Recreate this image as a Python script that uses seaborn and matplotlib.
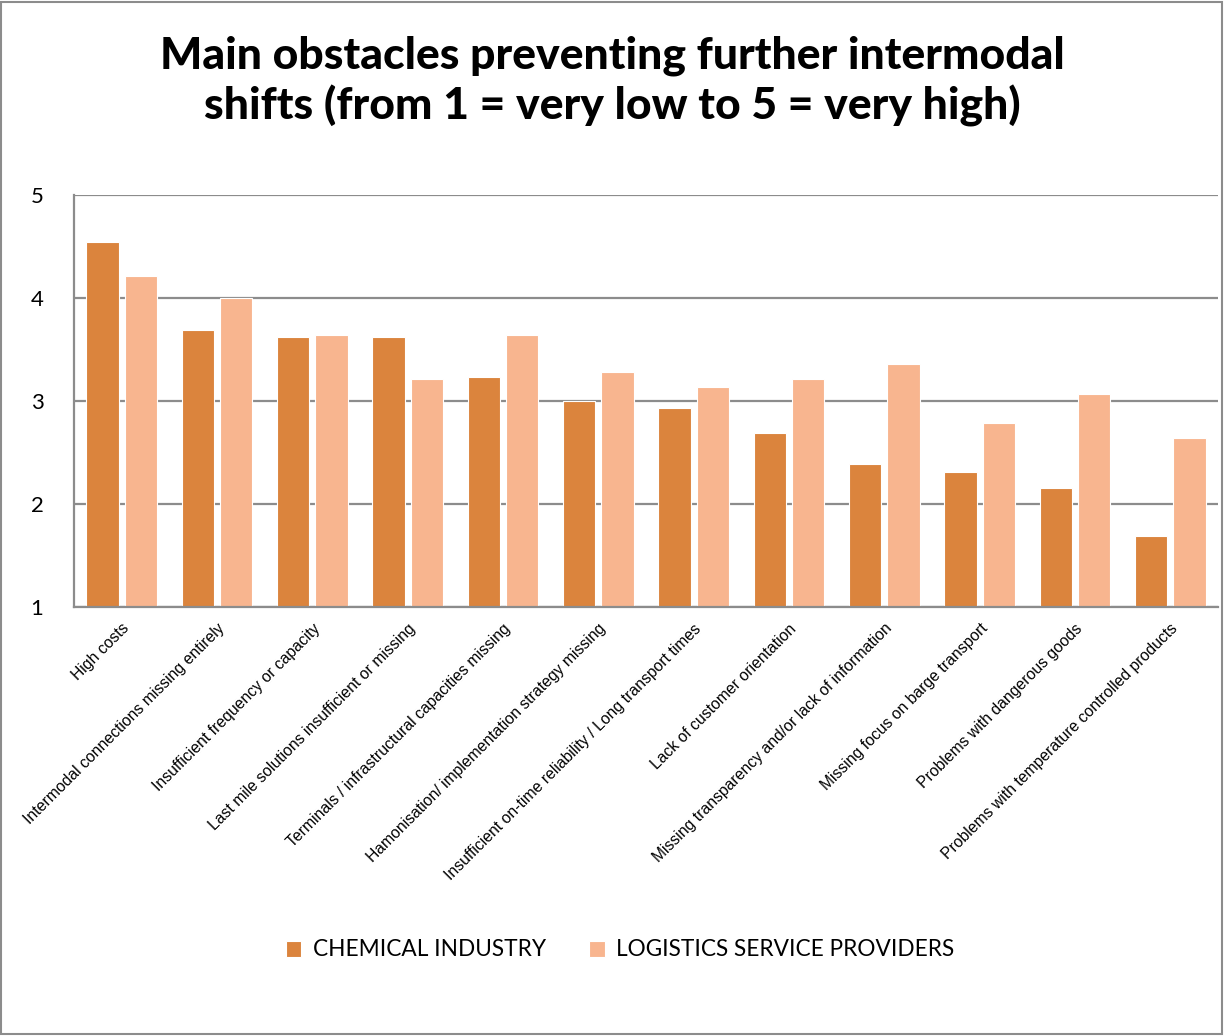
import numpy as np
import pandas as pd
import matplotlib.pyplot as plt
import seaborn as sns
from matplotlib.patches import Rectangle

# Data
obstacles = [
    'High costs',
    'Intermodal connections missing entirely',
    'Insufficient frequency or capacity',
    'Last mile solutions insufficient or missing',
    'Terminals / infrastructural capacities missing',
    'Hamonisation/ implementation strategy missing',
    'Insufficient on-time reliability / Long transport times',
    'Lack of customer orientation',
    'Missing transparency and/or lack of information',
    'Missing focus on barge transport',
    'Problems with dangerous goods',
    'Problems with temperature controlled products',
]
chemical_industry = [4.54, 3.69, 3.62, 3.62, 3.23, 3.00, 2.93, 2.69, 2.39, 2.31, 2.16, 1.69]
logistics_providers = [4.21, 4.00, 3.64, 3.21, 3.64, 3.28, 3.14, 3.21, 3.36, 2.79, 3.07, 2.64]
groups = ['CHEMICAL INDUSTRY', 'LOGISTICS SERVICE PROVIDERS']
colors = ['#DB843D', '#F8B58F']

df = pd.DataFrame({
    'Obstacle': obstacles * 2,
    'Score': chemical_industry + logistics_providers,
    'Group': [groups[0]] * len(obstacles) + [groups[1]] * len(obstacles),
})

sns.set_style('white')
plt.rcParams['font.family'] = ['Lato', 'DejaVu Sans']
plt.rcParams['text.color'] = 'black'
plt.rcParams['xtick.color'] = 'black'
plt.rcParams['ytick.color'] = 'black'

fig = plt.figure(figsize=(12.24, 10.36), dpi=100)
ax = fig.add_axes([74 / 1224, 1 - 607 / 1036, (1218 - 74) / 1224, (607 - 195) / 1036])

sns.barplot(data=df, x='Obstacle', y='Score', hue='Group', palette=colors, saturation=1,
            width=0.8, gap=0.15, edgecolor='white', linewidth=0.8, ax=ax)

ax.set_ylim(1, 5)
ax.set_yticks([1, 2, 3, 4, 5])
ax.set_xlabel('')
ax.set_ylabel('')
ax.set_axisbelow(True)
ax.yaxis.grid(True, color='#8c8c8c', linewidth=1.6)
ax.xaxis.grid(False)
for side in ['top', 'right']:
    ax.spines[side].set_visible(False)
for side in ['left', 'bottom']:
    ax.spines[side].set_color('#8c8c8c')
    ax.spines[side].set_linewidth(1.6)
ax.tick_params(axis='y', length=0, pad=22, labelsize=16)
ax.tick_params(axis='x', length=0, pad=10)
ax.set_xticks(range(len(obstacles)))
ax.set_xticklabels(obstacles, rotation=45, ha='right', rotation_mode='anchor',
                   fontsize=11.3, family=['Liberation Sans', 'DejaVu Sans'])

# Legend at the bottom
handles, labels = ax.get_legend_handles_labels()
ax.legend_.remove()
fig.legend(handles, labels, loc='center', bbox_to_anchor=(620 / 1224, 1 - 950 / 1036),
           ncol=2, frameon=False, fontsize=16.3, handlelength=0.7, handleheight=0.7,
           handletextpad=0.5, columnspacing=1.9)

# Title
fig.text(0.5, 1 - 81 / 1036,
         'Main obstacles preventing further intermodal\nshifts (from 1 = very low to 5 = very high)',
         ha='center', va='center', fontsize=32, fontweight='black', linespacing=1.25)

# Outer chart border
fig.patches.append(Rectangle((0.001, 0.002), 0.997, 0.996, transform=fig.transFigure,
                             fill=False, edgecolor='#8c8c8c', linewidth=1.5))

fig.savefig('out.png', dpi=100)
